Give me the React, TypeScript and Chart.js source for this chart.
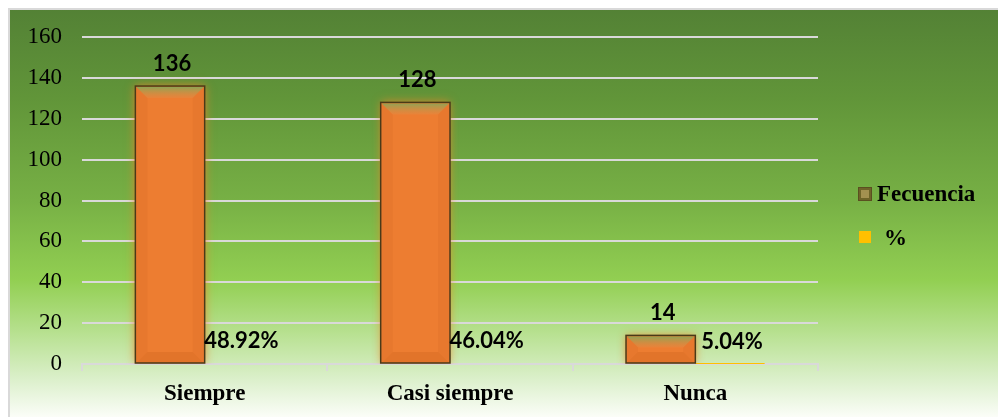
import React, { useEffect, useRef } from "react";
import { Chart, registerables } from "chart.js";

Chart.register(...registerables);

const categories = ["Siempre", "Casi siempre", "Nunca"];
const frecuencia = [136, 128, 14];
const porcentaje = [0.4892, 0.4604, 0.0504];
const seriesNames = ["Fecuencia", "%"];
const yTicks = [0, 20, 40, 60, 80, 100, 120, 140, 160];

const bgPlugin = {
  id: "bgPlugin",
  beforeDraw(chart: any) {
    const { ctx, width, height } = chart;
    ctx.save();
    const g = ctx.createLinearGradient(0, 0, 0, height);
    g.addColorStop(0, "#538135");
    g.addColorStop(0.22, "#619539");
    g.addColorStop(0.47, "#77b045");
    g.addColorStop(0.665, "#92cf52");
    g.addColorStop(0.79, "#b6e08e");
    g.addColorStop(0.91, "#dcf0cc");
    g.addColorStop(1, "#fbfdf8");
    ctx.fillStyle = g;
    ctx.fillRect(0, 0, width, height);
    ctx.fillStyle = "#d9d9d9";
    ctx.fillRect(0, 0, width, 2);
    ctx.fillRect(0, 0, 2, height);
    ctx.restore();
  },
};

const barFx = {
  id: "barFx",
  beforeDatasetDraw(chart: any, args: any) {
    if (args.index !== 0) return;
    const ctx = chart.ctx;
    ctx.save();
    ctx.shadowColor = "rgba(240,130,40,0.85)";
    ctx.shadowBlur = 9;
  },
  afterDatasetDraw(chart: any, args: any) {
    if (args.index !== 0) return;
    const ctx = chart.ctx;
    ctx.restore();
    const meta = chart.getDatasetMeta(0);
    ctx.save();
    meta.data.forEach((el: any) => {
      const { x, y, base, width } = el.getProps(["x", "y", "base", "width"], true);
      const l = x - width / 2 + 1;
      const r = x + width / 2 - 1;
      const t = y + 1;
      const b = Math.min(11, (base - y) / 2.5);
      const gt = ctx.createLinearGradient(0, t, 0, t + b);
      gt.addColorStop(0, "rgba(140,165,85,0.95)");
      gt.addColorStop(1, "rgba(225,140,70,0.4)");
      ctx.fillStyle = gt;
      ctx.beginPath();
      ctx.moveTo(l, t);
      ctx.lineTo(r, t);
      ctx.lineTo(r - b, t + b);
      ctx.lineTo(l + b, t + b);
      ctx.closePath();
      ctx.fill();
      ctx.fillStyle = "rgba(170,70,10,0.08)";
      ctx.beginPath();
      ctx.moveTo(l, t);
      ctx.lineTo(l + b, t + b);
      ctx.lineTo(l + b, base - b);
      ctx.lineTo(l, base);
      ctx.closePath();
      ctx.fill();
      ctx.beginPath();
      ctx.moveTo(r, t);
      ctx.lineTo(r - b, t + b);
      ctx.lineTo(r - b, base - b);
      ctx.lineTo(r, base);
      ctx.closePath();
      ctx.fill();
      ctx.fillStyle = "rgba(170,70,10,0.15)";
      ctx.beginPath();
      ctx.moveTo(l, base);
      ctx.lineTo(l + b, base - b);
      ctx.lineTo(r - b, base - b);
      ctx.lineTo(r, base);
      ctx.closePath();
      ctx.fill();
      ctx.strokeStyle = "#4a3a18";
      ctx.lineWidth = 1.5;
      ctx.strokeRect(x - width / 2, y, width, base - y);
    });
    ctx.restore();
  },
};

const labelsPlugin = {
  id: "labelsPlugin",
  afterDatasetsDraw(chart: any) {
    const ctx = chart.ctx;
    ctx.save();
    ctx.font = "bold 22px Lato";
    ctx.fillStyle = "#000";
    ctx.textAlign = "center";
    ctx.textBaseline = "bottom";
    chart.data.datasets.forEach((ds: any, di: number) => {
      const meta = chart.getDatasetMeta(di);
      meta.data.forEach((el: any, i: number) => {
        const v = ds.data[i];
        const txt = di === 0 ? String(v) : (v * 100).toFixed(2) + "%";
        ctx.fillText(txt, el.x + 2, el.y - 11);
      });
    });
    ctx.restore();
  },
};

const legendPlugin = {
  id: "legendPlugin",
  afterDraw(chart: any) {
    const ctx = chart.ctx;
    ctx.save();
    const mx = 850, my = 179, ms = 14;
    ctx.fillStyle = "#6e6428";
    ctx.fillRect(mx, my, ms, ms);
    ctx.fillStyle = "#a39150";
    ctx.fillRect(mx + 3, my + 3, ms - 6, ms - 6);
    ctx.strokeStyle = "#5a5020";
    ctx.lineWidth = 1;
    ctx.strokeRect(mx + 0.5, my + 0.5, ms - 1, ms - 1);
    ctx.fillStyle = "#FFC000";
    ctx.fillRect(851, 223, 12, 12);
    ctx.fillStyle = "#000";
    ctx.font = "bold 23px 'Liberation Serif'";
    ctx.textAlign = "left";
    ctx.textBaseline = "middle";
    ctx.fillText(seriesNames[0], 869, 187);
    ctx.fillText(seriesNames[1], 876, 231);
    ctx.restore();
  },
};

export default function App() {
  const ref = useRef<HTMLCanvasElement | null>(null);
  useEffect(() => {
    if (!ref.current) return;
    const chart = new Chart(ref.current, {
      type: "bar",
      data: {
        labels: categories,
        datasets: [
          {
            label: seriesNames[0],
            data: frecuencia,
            backgroundColor: "#ED7D31",
            borderColor: "#4a3a18",
            borderWidth: 0,
            categoryPercentage: 0.565,
            barPercentage: 1,
          },
          {
            label: seriesNames[1],
            data: porcentaje,
            backgroundColor: "#FFC000",
            borderWidth: 0,
            categoryPercentage: 0.565,
            barPercentage: 1,
          },
        ],
      },
      options: {
        animation: false,
        responsive: true,
        maintainAspectRatio: false,
        layout: { padding: { left: 0, right: 188, top: 29, bottom: 0 } },
        plugins: { legend: { display: false }, tooltip: { enabled: false } },
        scales: {
          x: {
            offset: true,
            grid: {
              display: true,
              drawOnChartArea: false,
              drawTicks: true,
              tickLength: 7,
              color: "#d9d9d9",
              lineWidth: 2,
              offset: true,
            },
            border: { display: true, color: "#d9d9d9", width: 2 },
            ticks: {
              color: "#000",
              padding: 9,
              font: { family: "'Liberation Serif'", size: 23, weight: "bold" },
            },
            afterFit(s: any) {
              s.height = 53;
            },
          },
          y: {
            min: 0,
            max: 160,
            afterBuildTicks(s: any) {
              s.ticks = yTicks.map((v) => ({ value: v }));
            },
            grid: { color: "#d9d9d9", lineWidth: 2, drawTicks: false },
            border: { display: false },
            ticks: {
              color: "#000",
              padding: 20,
              font: { family: "'Liberation Serif'", size: 23 },
            },
            afterFit(s: any) {
              s.width = 74;
              s.paddingTop = 0;
              s.paddingBottom = 0;
            },
          },
        },
      },
      plugins: [bgPlugin, barFx, labelsPlugin, legendPlugin],
    });
    return () => chart.destroy();
  }, []);
  return (
    <div style={{ width: 998, height: 409, position: "relative" }}>
      <canvas ref={ref} />
    </div>
  );
}
